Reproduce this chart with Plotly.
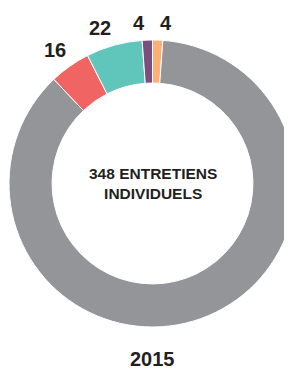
import math
import plotly.graph_objects as go

# Data (clockwise from 12 o'clock)
categories = ["Orange", "Autres", "Rouge", "Turquoise", "Violet"]
values = [4, 302, 16, 22, 4]
colors = ["#fcb075", "#939598", "#f06563", "#60c6bc", "#7b4e7e"]
label_text = ["4", "", "16", "22", "4"]

center_title = "348 ENTRETIENS<br>INDIVIDUELS"
year = "2015"

W, H = 292, 369
# page body has an 8px margin -> positions in figure pixels
cx, cy, r = 144.5, 175.5, 143.5

fig = go.Figure(go.Pie(
    labels=categories,
    values=values,
    textinfo="none",
    sort=False,
    direction="clockwise",
    rotation=0,
    hole=0.70,
    marker=dict(colors=colors, line=dict(color="white", width=1)),
    domain=dict(x=[(cx - r) / W, (cx + r) / W], y=[(H - cy - r) / H, (H - cy + r) / H]),
    hoverinfo="label+value",
))

FONT = "Liberation Sans, Arial, sans-serif"
TXT = "#231f20"

annotations = [
    dict(text="<b>" + center_title + "</b>", x=cx / W, y=1 - cy / H, xref="paper", yref="paper",
         showarrow=False, font=dict(size=15.5, color=TXT), xanchor="center", yanchor="middle"),
    dict(text="<b>" + year + "</b>", x=cx / W, y=1 - 351 / H, xref="paper", yref="paper",
         showarrow=False, font=dict(size=20, color=TXT), xanchor="center", yanchor="middle"),
]

# slice value labels, placed outside each slice's mid-angle
total = sum(values)
cum = 0.0
for v, t in zip(values, label_text):
    mid = (cum + v / 2) / total * 2 * math.pi  # clockwise from top
    cum += v
    if not t:
        continue
    rr = r + 4
    px = cx + rr * math.sin(mid)
    py = cy - rr * math.cos(mid)
    annotations.append(dict(
        text="<b>" + t + "</b>", x=px / W, y=1 - py / H, xref="paper", yref="paper",
        showarrow=False, font=dict(size=20, color=TXT),
        xanchor="left" if math.sin(mid) > 0 else "right", yanchor="bottom",
    ))

fig.update_layout(
    width=W, height=H,
    margin=dict(l=0, r=0, t=0, b=0),
    paper_bgcolor="white",
    showlegend=False,
    font=dict(family=FONT, color=TXT),
    annotations=annotations,
)

fig.write_html("out.html")
